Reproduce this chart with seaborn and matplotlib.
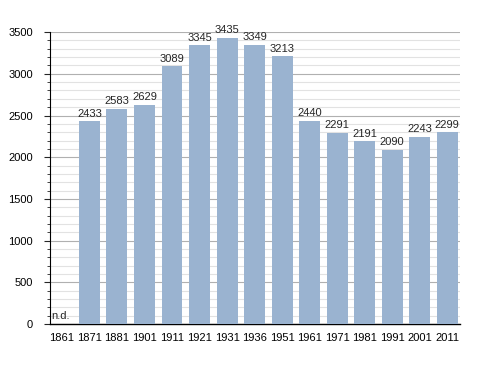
import matplotlib
matplotlib.use("Agg")
import matplotlib.pyplot as plt
import seaborn as sns
import numpy as np
import pandas as pd
from matplotlib.ticker import MultipleLocator

years = ["1861", "1871", "1881", "1901", "1911", "1921", "1931", "1936",
         "1951", "1961", "1971", "1981", "1991", "2001", "2011"]
population = [np.nan, 2433, 2583, 2629, 3089, 3345, 3435, 3349,
              3213, 2440, 2291, 2191, 2090, 2243, 2299]
missing_label = "n.d."

df = pd.DataFrame({"year": years, "pop": population})

sns.set_style("white")
plt.rcParams['font.family'] = ['Liberation Sans', 'DejaVu Sans']
fig = plt.figure(figsize=(4.88, 3.73), dpi=100)
ax = fig.add_axes([0.102, 0.131, 0.841, 0.783])

sns.barplot(data=df, x="year", y="pop", color="#9ab3d0", saturation=1,
            width=0.76, ax=ax, zorder=3, linewidth=0, edgecolor="none")

ax.set_ylim(0, 3500)
ax.set_xlim(-0.44, 14.47)
ax.yaxis.set_major_locator(MultipleLocator(500))
ax.yaxis.set_minor_locator(MultipleLocator(100))
ax.grid(which="major", axis="y", color="#b0b0b0", linewidth=0.8, zorder=0)
ax.grid(which="minor", axis="y", color="#e2e2e2", linewidth=0.8, zorder=0)
ax.set_axisbelow(True)

for s in ["top", "right"]:
    ax.spines[s].set_visible(False)
ax.spines["left"].set_color("black")
ax.spines["bottom"].set_color("black")
ax.spines["left"].set_linewidth(0.8)
ax.spines["bottom"].set_linewidth(1.0)

ax.tick_params(axis="y", which="major", left=True, length=4, width=0.8,
               labelsize=8, pad=8, labelcolor="black")
ax.tick_params(axis="y", which="minor", left=True, length=2.5, width=0.6)
ax.tick_params(axis="x", bottom=False, labelsize=8, pad=3, labelcolor="black")
ax.set_xlabel("")
ax.set_ylabel("")

for i, v in enumerate(population):
    if np.isnan(v):
        ax.text(i - 0.05, 40, missing_label, ha="center", va="bottom", fontsize=8, zorder=5)
    else:
        ax.text(i, v + 30, f"{int(v)}", ha="center", va="bottom", fontsize=8, zorder=5)

fig.savefig("out.png", dpi=100)
